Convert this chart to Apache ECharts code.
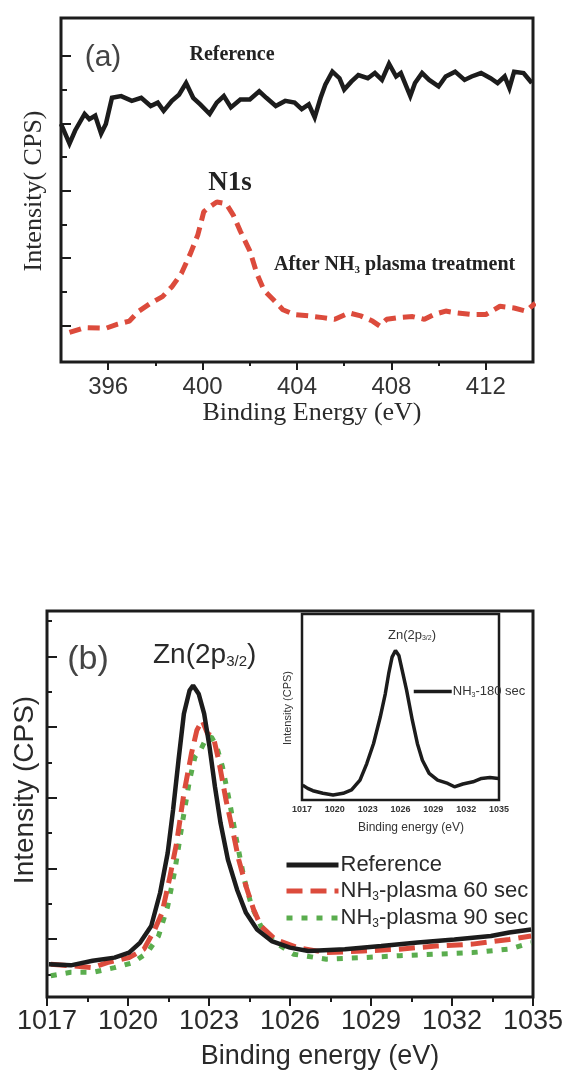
<!DOCTYPE html>
<html><head><meta charset="utf-8">
<script src="https://cdn.jsdelivr.net/npm/echarts@6/dist/echarts.min.js"></script>
<style>html,body{margin:0;padding:0;background:#fff}#c{width:570px;height:1077px}</style>
</head><body><div id="c"></div>
<script>
// ---------- Panel (a): N1s ----------
const aTicksMajorX = [396, 400, 404, 408, 412];
const aTicksMinorX = [398, 402, 406, 410];
const aTicksMajorY = [10.6, 30.2, 49.8, 69.4, 89.0];
const aTicksMinorY = [20.4, 40.0, 59.6, 79.2];
const aReference = [[394.0,69.2],[394.36,63.5],[394.6,67.3],[395.0,72.1],[395.2,70.6],[395.45,71.6],[395.7,66.4],[395.9,69.2],[396.16,76.8],[396.55,77.3],[397.0,75.9],[397.4,76.8],[397.8,74.4],[398.1,75.4],[398.35,73.0],[398.7,75.9],[399.0,77.7],[399.3,81.1],[399.6,76.8],[399.9,74.9],[400.3,72.1],[400.6,75.4],[400.9,77.3],[401.2,74.0],[401.6,76.3],[402.0,76.3],[402.4,78.7],[402.7,76.8],[403.1,74.4],[403.5,75.9],[403.9,75.4],[404.2,73.5],[404.5,74.9],[404.75,71.1],[405.0,76.8],[405.2,80.6],[405.5,84.4],[405.8,82.5],[406.0,79.2],[406.3,81.5],[406.6,83.4],[407.0,82.5],[407.3,84.0],[407.6,82.0],[407.9,86.7],[408.2,83.0],[408.4,84.0],[408.8,77.3],[409.0,81.1],[409.3,84.0],[409.6,82.0],[410.0,80.1],[410.3,83.0],[410.7,84.4],[411.1,82.0],[411.4,83.0],[411.8,84.0],[412.2,82.5],[412.5,81.1],[412.8,83.0],[413.0,79.6],[413.2,84.4],[413.6,84.0],[413.95,81.1]];
const aPlasma = [[394.36,8.6],[395.0,10.0],[395.9,9.8],[396.4,11.0],[396.9,11.9],[397.3,14.8],[397.8,17.1],[398.3,19.0],[398.7,21.9],[399.1,25.7],[399.5,31.8],[399.8,37.0],[400.05,43.7],[400.3,45.1],[400.6,46.5],[401.0,46.0],[401.3,42.7],[401.6,38.0],[402.0,32.3],[402.3,25.7],[402.6,20.9],[403.0,18.1],[403.4,15.2],[403.9,13.8],[404.5,13.4],[405.1,12.9],[405.6,12.4],[406.2,14.3],[406.7,13.4],[407.2,11.9],[407.5,10.5],[407.8,12.4],[408.3,12.9],[408.9,13.2],[409.4,12.4],[409.8,13.8],[410.3,14.8],[410.75,14.3],[411.4,13.8],[412.0,13.8],[412.6,16.2],[413.2,15.7],[413.7,14.8],[414.1,17.1]];

// ---------- Panel (b): Zn 2p3/2 ----------
const bTicksMajorY = [15.0, 33.3, 51.6, 69.9, 88.2];
const bTicksMinorY = [5.85, 24.15, 42.45, 60.75, 79.05, 97.35];
const bReference = [[1017.07,8.5],[1017.88,8.2],[1018.69,9.4],[1019.5,10.2],[1020.04,11.5],[1020.45,14.1],[1020.86,18.4],[1021.19,27.0],[1021.47,37.3],[1021.67,48.5],[1021.87,61.3],[1022.07,73.4],[1022.28,79.4],[1022.41,80.7],[1022.62,78.5],[1022.82,73.4],[1023.02,64.8],[1023.22,54.5],[1023.43,45.0],[1023.7,35.6],[1024.04,27.8],[1024.37,21.8],[1024.78,17.5],[1025.32,14.5],[1026.0,12.8],[1026.68,11.9],[1028.03,12.4],[1029.38,13.2],[1030.73,14.1],[1032.09,14.9],[1033.44,15.8],[1034.12,16.7],[1034.93,17.5]];
const bPlasma60 = [[1017.14,8.5],[1017.88,8.1],[1018.69,7.6],[1019.23,8.9],[1020.04,10.2],[1020.59,12.4],[1020.99,17.5],[1021.26,21.8],[1021.53,30.4],[1021.8,39.9],[1022.07,52.7],[1022.35,63.1],[1022.55,69.1],[1022.75,71.6],[1022.95,68.2],[1023.16,67.4],[1023.36,61.3],[1023.63,51.0],[1023.9,42.4],[1024.1,35.6],[1024.37,28.7],[1024.65,22.7],[1024.92,18.4],[1025.46,14.9],[1026.27,12.8],[1027.35,11.5],[1028.7,11.9],[1030.06,12.4],[1031.41,13.2],[1032.76,13.7],[1034.12,14.9],[1034.93,15.8]];
const bPlasma90 = [[1017.14,5.5],[1017.88,6.4],[1018.69,6.4],[1019.5,7.6],[1020.18,8.9],[1020.72,11.5],[1021.13,15.8],[1021.47,23.5],[1021.74,33.0],[1022.01,45.0],[1022.28,56.2],[1022.48,62.2],[1022.68,63.9],[1022.89,66.9],[1023.09,67.4],[1023.29,64.8],[1023.5,59.6],[1023.77,50.2],[1024.04,39.9],[1024.31,30.4],[1024.58,23.5],[1024.92,18.4],[1025.46,14.1],[1026.13,11.1],[1027.35,9.8],[1028.7,10.2],[1030.06,10.7],[1031.41,11.1],[1032.76,11.5],[1034.12,12.4],[1034.93,14.1]];

// ---------- Inset: NH3 180 sec ----------
const insetTicksY = [15.0, 30.3, 45.6, 60.9, 76.2, 91.5];
const inset180 = [[1017.06,8.0],[1017.52,6.25],[1017.99,5.0],[1018.91,3.6],[1019.84,2.7],[1020.76,3.6],[1021.53,5.4],[1022.3,10.7],[1022.92,19.6],[1023.54,30.4],[1024.15,44.6],[1024.61,57.1],[1024.92,67.9],[1025.23,76.8],[1025.54,80.4],[1025.85,77.7],[1026.16,69.6],[1026.56,58.9],[1027.08,42.9],[1027.54,30.4],[1028.0,21.4],[1028.62,14.3],[1029.39,10.7],[1030.32,8.9],[1030.93,7.1],[1031.7,8.6],[1032.63,9.8],[1033.4,11.6],[1034.17,12.1],[1034.94,11.6]];

const seriesNamesB = ['Reference', 'NH₃-plasma 60 sec', 'NH₃-plasma 90 sec'];
const seriesNameInset = 'NH₃-180 sec';

const SANS = "'Liberation Sans', Arial, sans-serif";
const SERIF = "'Liberation Serif', 'Times New Roman', serif";
const INK = '#1c1c1c';
const RED = '#dc4b3c';
const GREEN = '#5aad4e';

function txt(x, y, text, size, o) {
  o = o || {};
  const sub = Math.round(size * (o.subScale || 0.55));
  return {
    type: 'text', x: x, y: y, rotation: o.rot || 0, z: 100,
    style: {
      text: text, fontSize: size, fontFamily: o.fam || SANS,
      fontWeight: o.bold ? 'bold' : 'normal', fill: o.color || '#222',
      align: o.align || 'left', verticalAlign: 'middle',
      rich: { s: { fontSize: sub, fontFamily: o.fam || SANS, fontWeight: o.bold ? 'bold' : 'normal',
                   fill: o.color || '#222', padding: [Math.round(size * 0.5), 0, 0, 0] } }
    }
  };
}

const tickLine = { color: INK, width: 2 };
const plain = v => String(v);
function valAxis(extra) {
  return Object.assign({
    type: 'value', splitLine: { show: false }, axisLine: { show: false },
    axisLabel: { show: false }, axisTick: { show: false }
  }, extra);
}

const chart = echarts.init(document.getElementById('c'), null, { renderer: 'canvas' });
chart.setOption({
  backgroundColor: '#fff',
  animation: false,
  grid: [
    { left: 61, top: 18, width: 472, height: 344, show: true, borderColor: INK, borderWidth: 3, backgroundColor: 'transparent' },
    { left: 47, top: 611, width: 486, height: 386, show: true, borderColor: INK, borderWidth: 3, backgroundColor: 'transparent' },
    { left: 302, top: 614, width: 197, height: 186, show: true, borderColor: INK, borderWidth: 2.5, backgroundColor: '#fff', z: 3 }
  ],
  xAxis: [
    valAxis({ gridIndex: 0, min: 394, max: 414, position: 'bottom',
      axisTick: { show: true, customValues: aTicksMajorX, length: 8, lineStyle: tickLine },
      axisLabel: { show: true, customValues: aTicksMajorX, formatter: plain, fontSize: 24, fontFamily: SANS, color: '#333', margin: 13 } }),
    valAxis({ gridIndex: 0, min: 394, max: 414, position: 'bottom',
      axisTick: { show: true, customValues: aTicksMinorX, length: 4, lineStyle: tickLine } }),
    valAxis({ gridIndex: 1, min: 1017, max: 1035, interval: 3, position: 'bottom',
      axisTick: { show: true, length: 9, lineStyle: tickLine },
      minorTick: { show: true, splitNumber: 2, length: 5, lineStyle: tickLine },
      axisLabel: { show: true, formatter: plain, fontSize: 27, fontFamily: SANS, color: '#2a2a2a', margin: 11 } }),
    valAxis({ gridIndex: 2, min: 1017, max: 1035, interval: 3, position: 'bottom',
      axisTick: { show: true, inside: true, length: 4, lineStyle: { color: INK, width: 1.5 } },
      minorTick: { show: true, splitNumber: 2, length: 4, lineStyle: { color: INK, width: 1.5 } },
      axisLabel: { show: true, formatter: plain, fontSize: 9, fontWeight: 'bold', fontFamily: SANS, color: '#333', margin: 5 } })
  ],
  yAxis: [
    valAxis({ gridIndex: 0, min: 0, max: 100, position: 'left',
      axisTick: { show: true, inside: true, customValues: aTicksMajorY, length: 10, lineStyle: tickLine } }),
    valAxis({ gridIndex: 0, min: 0, max: 100, position: 'left',
      axisTick: { show: true, inside: true, customValues: aTicksMinorY, length: 6, lineStyle: tickLine } }),
    valAxis({ gridIndex: 1, min: 0, max: 100, position: 'left',
      axisTick: { show: true, inside: true, customValues: bTicksMajorY, length: 10, lineStyle: tickLine } }),
    valAxis({ gridIndex: 1, min: 0, max: 100, position: 'left',
      axisTick: { show: true, inside: true, customValues: bTicksMinorY, length: 5, lineStyle: tickLine } }),
    valAxis({ gridIndex: 2, min: 0, max: 100, position: 'left',
      axisTick: { show: true, inside: true, customValues: insetTicksY, length: 4, lineStyle: { color: INK, width: 1.5 } } })
  ],
  legend: [
    { left: 279, top: 849, orient: 'vertical', itemWidth: 52, itemHeight: 14, itemGap: 4,
      data: seriesNamesB, selectedMode: false,
      itemStyle: { opacity: 0, borderWidth: 0 },
      lineStyle: { width: 5 },
      formatter: n => n.replace('₃', '{s|3}'),
      textStyle: { fontSize: 22, fontFamily: SANS, color: '#2a2a2a', padding: [0, 0, 0, -3],
        rich: { s: { fontSize: 12, fontFamily: SANS, color: '#2a2a2a', padding: [12, 0, 0, 0] } } } },
    { left: 407, top: 680, itemWidth: 38, itemHeight: 12, data: [seriesNameInset], selectedMode: false,
      itemStyle: { opacity: 0, borderWidth: 0 },
      lineStyle: { width: 3.5 },
      formatter: n => n.replace('₃', '{s|3}'),
      textStyle: { fontSize: 13, fontFamily: SANS, color: '#333', padding: [0, 0, 0, -4],
        rich: { s: { fontSize: 7, fontFamily: SANS, color: '#333', padding: [7, 0, 0, 0] } } } }
  ],
  series: [
    { type: 'line', name: 'Reference (a)', xAxisIndex: 0, yAxisIndex: 0, data: aReference, symbol: 'none',
      lineStyle: { color: INK, width: 4.5, join: 'miter' }, itemStyle: { color: INK } },
    { type: 'line', name: 'After NH3 plasma treatment', xAxisIndex: 0, yAxisIndex: 0, data: aPlasma, symbol: 'none',
      lineStyle: { color: RED, width: 5, type: [12, 7], cap: 'butt' }, itemStyle: { color: RED } },
    { type: 'line', name: seriesNamesB[0], xAxisIndex: 2, yAxisIndex: 2, data: bReference, symbol: 'none', z: 4,
      lineStyle: { color: INK, width: 4.5 }, itemStyle: { color: INK } },
    { type: 'line', name: seriesNamesB[1], xAxisIndex: 2, yAxisIndex: 2, data: bPlasma60, symbol: 'none', z: 3,
      lineStyle: { color: RED, width: 5, type: [16, 8], cap: 'butt' }, itemStyle: { color: RED } },
    { type: 'line', name: seriesNamesB[2], xAxisIndex: 2, yAxisIndex: 2, data: bPlasma90, symbol: 'none', z: 2,
      lineStyle: { color: GREEN, width: 5, type: [6, 9], cap: 'butt' }, itemStyle: { color: GREEN } },
    { type: 'line', name: seriesNameInset, xAxisIndex: 3, yAxisIndex: 4, data: inset180, symbol: 'none', z: 5,
      lineStyle: { color: INK, width: 3.5 }, itemStyle: { color: INK } }
  ],
  graphic: [
    // panel (a)
    txt(103, 58, '(a)', 30, { align: 'center', color: '#444' }),
    txt(232, 55, 'Reference', 20, { align: 'center', fam: SERIF, bold: true, color: '#222' }),
    txt(230, 183, 'N1s', 27, { align: 'center', fam: SERIF, bold: true, color: '#222' }),
    txt(274, 265, 'After NH{s|3} plasma treatment', 20, { fam: SERIF, bold: true, color: '#222' }),
    txt(312, 413, 'Binding Energy (eV)', 26, { align: 'center', fam: SERIF, color: '#2a2a2a' }),
    txt(34, 191, 'Intensity( CPS)', 26, { align: 'center', fam: SERIF, color: '#2a2a2a', rot: Math.PI / 2 }),
    // panel (b)
    txt(88, 660, '(b)', 34, { align: 'center', color: '#444' }),
    txt(153, 655, 'Zn(2p{s|3/2})', 28, { color: '#2a2a2a' }),
    txt(320, 1057, 'Binding energy (eV)', 27, { align: 'center', color: '#2a2a2a' }),
    txt(25, 790, 'Intensity (CPS)', 28, { align: 'center', color: '#2a2a2a', rot: Math.PI / 2 }),
    // inset
    txt(412, 635, 'Zn(2p{s|3/2})', 13, { align: 'center', color: '#333' }),
    txt(411, 828, 'Binding energy (eV)', 12, { align: 'center', color: '#333' }),
    txt(288, 708, 'Intensity (CPS)', 11, { align: 'center', color: '#333', rot: Math.PI / 2 })
  ]
});
</script>
</body></html>
